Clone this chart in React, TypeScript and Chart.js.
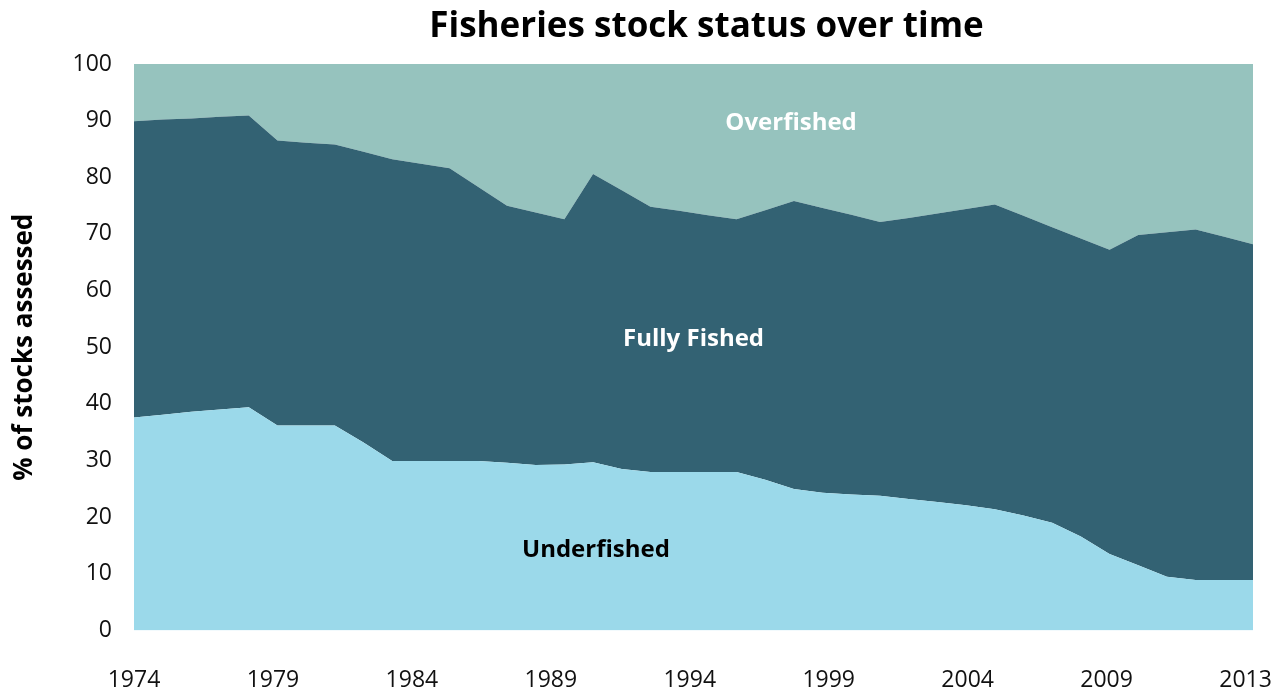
import React, { useEffect, useRef } from "react";
import { Chart, registerables } from "chart.js";

Chart.register(...registerables);

// ---- data (% of stocks assessed) ----
const YEARS = [
  1974, 1975, 1976, 1977, 1978, 1979, 1980, 1981, 1982, 1983,
  1984, 1985, 1986, 1987, 1988, 1989, 1990, 1991, 1992, 1993,
  1994, 1995, 1996, 1997, 1998, 1999, 2000, 2001, 2002, 2003,
  2004, 2005, 2006, 2007, 2008, 2009, 2010, 2011, 2012, 2013,
];

const UNDERFISHED = [
  37.6, 38.1, 38.6, 39.0, 39.4, 36.2, 36.2, 36.2, 33.2, 29.9,
  29.9, 29.9, 29.9, 29.6, 29.2, 29.3, 29.7, 28.5, 28.0, 28.0,
  28.0, 28.0, 26.6, 25.0, 24.3, 24.0, 23.8, 23.2, 22.7, 22.1,
  21.4, 20.3, 19.0, 16.6, 13.5, 11.5, 9.5, 8.9, 8.9, 8.9,
];

const FULLY_FISHED = [
  52.3, 52.1, 51.8, 51.7, 51.5, 50.3, 49.9, 49.6, 51.3, 53.3,
  52.5, 51.7, 48.4, 45.4, 44.6, 43.3, 50.9, 49.2, 46.8, 46.1,
  45.3, 44.6, 47.6, 50.8, 50.3, 49.4, 48.3, 49.6, 50.9, 52.3,
  53.8, 52.9, 52.2, 52.6, 53.7, 58.3, 60.8, 61.9, 60.6, 59.3,
];

const OVERFISHED = [
  10.1, 9.8, 9.6, 9.3, 9.1, 13.5, 13.9, 14.2, 15.5, 16.8,
  17.6, 18.4, 21.7, 25.0, 26.2, 27.4, 19.4, 22.3, 25.2, 25.9,
  26.7, 27.4, 25.8, 24.2, 25.4, 26.6, 27.9, 27.2, 26.4, 25.6,
  24.8, 26.8, 28.8, 30.8, 32.8, 30.2, 29.7, 29.2, 30.5, 31.8,
];

const SERIES_NAMES = ["Underfished", "Fully Fished", "Overfished"];
const X_TICK_LABELS = ["1974", "1979", "1984", "1989", "1994", "1999", "2004", "2009", "2013"];

const TITLE = "Fisheries stock status over time";
const Y_TITLE = "% of stocks assessed";

// ---- styling / layout ----
const COLORS = ["#9bd9ea", "#336273", "#96c3be"];
const LABEL_COLORS = ["#000000", "#ffffff", "#ffffff"];
// label anchors in data units (year, %)
const LABEL_ANCHORS = [
  { year: 1990.1, value: 14.2 },
  { year: 1993.5, value: 51.5 },
  { year: 1996.9, value: 89.6 },
];
const X_LABEL_END = 2012.74; // year at which the last category label sits
const FONT = '"Open Sans", "DejaVu Sans", sans-serif';

const overlayPlugin = {
  id: "overlayText",
  afterDatasetsDraw(chart: any) {
    const { ctx, chartArea, scales } = chart;
    const xs = scales.x;
    const ys = scales.y;
    ctx.save();
    ctx.textAlign = "center";
    ctx.textBaseline = "middle";
    ctx.font = `bold 24px ${FONT}`;
    SERIES_NAMES.forEach((name, i) => {
      ctx.fillStyle = LABEL_COLORS[i];
      ctx.fillText(
        name,
        xs.getPixelForValue(LABEL_ANCHORS[i].year),
        ys.getPixelForValue(LABEL_ANCHORS[i].value)
      );
    });
    ctx.fillStyle = "#000000";
    ctx.font = `bold 35px ${FONT}`;
    ctx.fillText(TITLE, (chartArea.left + chartArea.right) / 2 + 13, 27);
    ctx.restore();
  },
};

export default function App() {
  const canvasRef = useRef<HTMLCanvasElement | null>(null);

  useEffect(() => {
    if (!canvasRef.current) return;
    const seriesValues = [UNDERFISHED, FULLY_FISHED, OVERFISHED];
    const chart = new Chart(canvasRef.current, {
      type: "line",
      data: {
        datasets: SERIES_NAMES.map((name, i) => ({
          label: name,
          data: YEARS.map((yr, j) => ({ x: yr, y: seriesValues[i][j] })),
          fill: i === 0 ? "origin" : "-1",
          backgroundColor: COLORS[i],
          borderColor: COLORS[i],
          borderWidth: 0,
          pointRadius: 0,
          pointHoverRadius: 0,
          tension: 0,
        })),
      },
      options: {
        animation: false,
        responsive: false,
        events: [],
        layout: { padding: { top: 64, right: 22, left: 0, bottom: 0 } },
        plugins: {
          legend: { display: false },
          title: { display: false },
          tooltip: { enabled: false },
        },
        scales: {
          x: {
            type: "linear",
            min: YEARS[0],
            max: YEARS[YEARS.length - 1],
            grid: { display: false, drawTicks: false },
            border: { display: false },
            afterBuildTicks: (scale: any) => {
              const n = X_TICK_LABELS.length;
              scale.ticks = X_TICK_LABELS.map((_, i) => ({
                value: YEARS[0] + (i * (X_LABEL_END - YEARS[0])) / (n - 1),
              }));
            },
            afterFit: (scale: any) => {
              scale.height = 59.5;
              scale.paddingLeft = 0;
              scale.paddingRight = 0;
            },
            ticks: {
              autoSkip: false,
              maxRotation: 0,
              minRotation: 0,
              padding: 36,
              color: "#111111",
              font: { family: FONT, size: 23 },
              callback: (_v: any, index: number) => X_TICK_LABELS[index],
            },
          },
          y: {
            type: "linear",
            stacked: true,
            min: 0,
            max: 100,
            grid: { display: false, drawTicks: false },
            border: { display: false },
            afterFit: (scale: any) => {
              scale.width = 134;
              scale.paddingTop = 0;
              scale.paddingBottom = 0;
            },
            ticks: {
              stepSize: 10,
              padding: 22,
              color: "#111111",
              font: { family: FONT, size: 23 },
            },
            title: {
              display: true,
              text: Y_TITLE,
              color: "#000000",
              padding: { top: 9, bottom: 0 },
              font: { family: FONT, size: 26, weight: "bold" },
            },
          },
        },
      },
      plugins: [overlayPlugin],
    } as any);
    return () => chart.destroy();
  }, []);

  return (
    <div
      style={{
        position: "fixed",
        left: 0,
        top: 0,
        width: 1275,
        height: 690,
        background: "#ffffff",
      }}
    >
      <canvas ref={canvasRef} width={1275} height={690} style={{ display: "block" }} />
    </div>
  );
}
